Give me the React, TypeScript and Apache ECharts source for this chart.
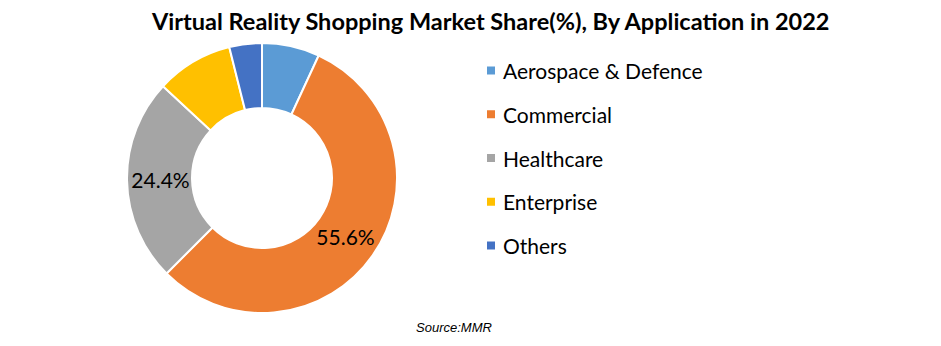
import React, { useEffect, useRef } from "react";
import * as echarts from "echarts";

const categories = ["Aerospace & Defence", "Commercial", "Healthcare", "Enterprise", "Others"];
const values = [6.9, 55.6, 24.4, 9.2, 3.9];
const showLabel = [false, true, true, false, false];
const colors = ["#5B9BD5", "#ED7D31", "#A5A5A5", "#FFC000", "#4472C4"];
const titleText = "Virtual Reality Shopping Market Share(%), By Application in 2022";
const sourceText = "Source:MMR";

export default function App() {
  const ref = useRef<HTMLDivElement>(null);
  useEffect(() => {
    if (!ref.current) return;
    const chart = echarts.init(ref.current, undefined, { renderer: "svg" });
    const labelOffsets: Record<string, number[]> = {
      Commercial: [-3, -2],
      Healthcare: [4, 0],
    };
    chart.setOption({
      animation: false,
      backgroundColor: "#ffffff",
      title: {
        text: titleText,
        left: 152,
        top: 9,
        padding: 0,
        textStyle: { fontFamily: "Lato", fontWeight: "bold", fontSize: 23.5, color: "#000000" },
      },
      graphic: [
        {
          type: "text",
          left: 416,
          top: 321,
          style: {
            text: sourceText,
            font: "italic 13px 'Liberation Sans', Arial, sans-serif",
            fill: "#000000",
          },
        },
      ],
      legend: {
        orient: "vertical",
        left: 485,
        top: 60,
        padding: 0,
        itemWidth: 10,
        itemHeight: 10,
        itemGap: 22.75,
        icon: "rect",
        textStyle: { fontFamily: "Lato", fontSize: 21, color: "#000000", lineHeight: 20, padding: [0, 0, 0, 2] },
        data: categories,
      },
      series: [
        {
          type: "pie",
          center: [262, 178],
          radius: [70, 135],
          startAngle: 90,
          clockwise: true,
          avoidLabelOverlap: false,
          itemStyle: { borderColor: "#ffffff", borderWidth: 2 },
          label: {
            position: "inside",
            formatter: (p: any) => p.value.toFixed(1) + "%",
            fontFamily: "Lato",
            fontSize: 21,
            color: "#000000",
          },
          labelLine: { show: false },
          emphasis: { disabled: true },
          data: categories.map((name, i) => ({
            name,
            value: values[i],
            itemStyle: { color: colors[i] },
            label: { show: showLabel[i], offset: labelOffsets[name] || [0, 0] },
          })),
        },
      ],
    });
    return () => chart.dispose();
  }, []);
  return (
    <div
      ref={ref}
      style={{ position: "fixed", left: 0, top: 0, width: 941, height: 346 }}
    />
  );
}
